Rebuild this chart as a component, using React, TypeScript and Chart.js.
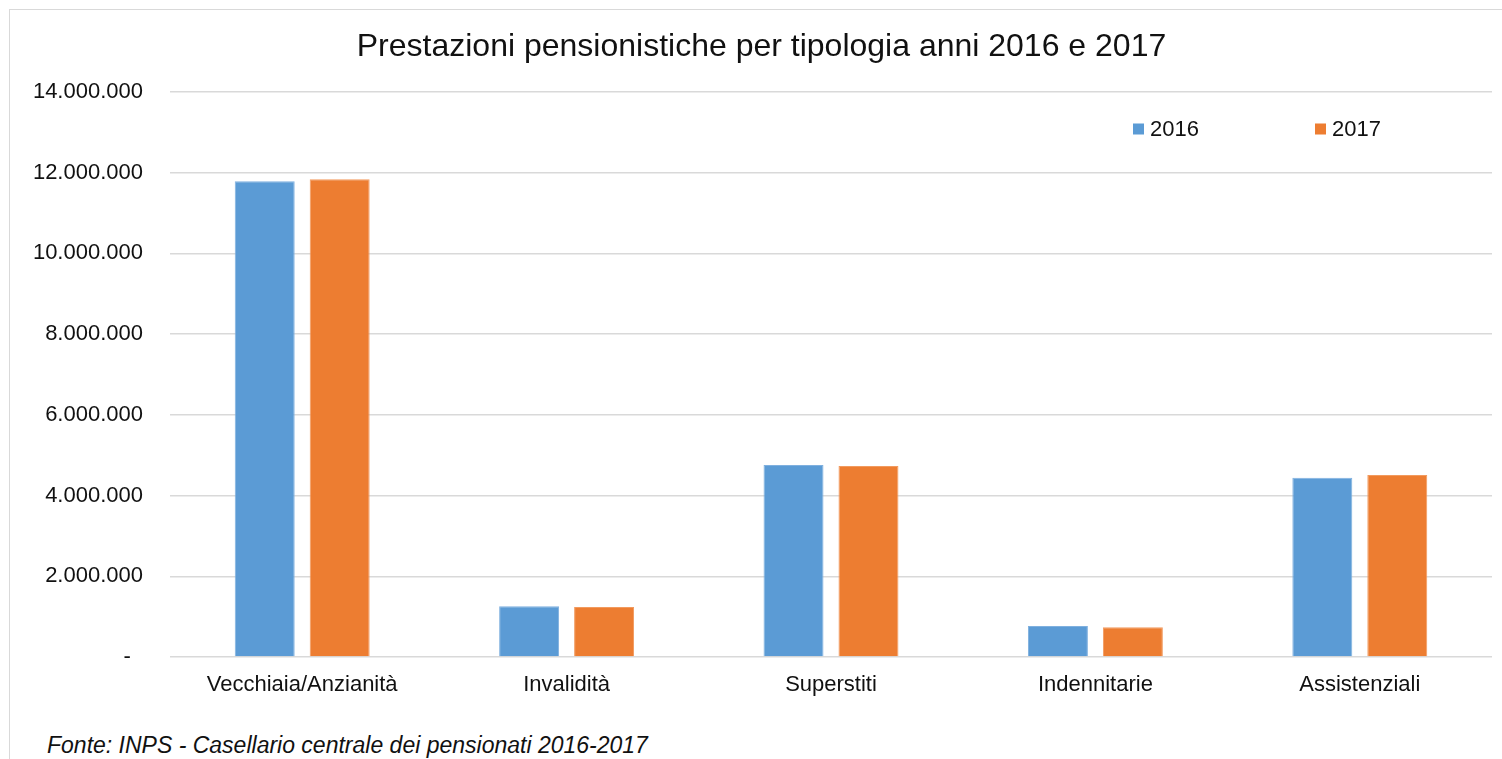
import React, { useEffect, useRef } from "react";
import { Chart, registerables } from "chart.js";

Chart.register(...registerables);

const categories = ["Vecchiaia/Anzianità", "Invalidità", "Superstiti", "Indennitarie", "Assistenziali"];
const values2016 = [11790000, 1260000, 4760000, 770000, 4440000];
const values2017 = [11840000, 1240000, 4730000, 740000, 4510000];
const seriesLabels = ["2016", "2017"];
const seriesColors = ["#5B9BD5", "#ED7D31"];
const seriesBorders = ["#7fb0df", "#f29a5e"];
const titleText = "Prestazioni pensionistiche per tipologia anni 2016 e 2017";
const sourceText = "Fonte: INPS - Casellario centrale dei pensionati 2016-2017";

const FONT = "'Liberation Sans', Arial, sans-serif";
const TEXT = "#111111";

const fmt = (v: number) =>
  v === 0 ? "-  " : String(Math.round(v)).replace(/\B(?=(\d{3})+(?!\d))/g, ".");

const legendPlugin = {
  id: "manualLegend",
  afterDraw(chart: any) {
    const ctx = chart.ctx;
    const items = [
      { x: 1123, y: 119 },
      { x: 1305, y: 119 },
    ];
    ctx.save();
    ctx.font = `22px ${FONT}`;
    ctx.textBaseline = "middle";
    ctx.textAlign = "left";
    chart.data.datasets.forEach((ds: any, i: number) => {
      const p = items[i];
      ctx.fillStyle = ds.backgroundColor;
      ctx.fillRect(p.x, p.y - 5.5, 11, 11);
      ctx.fillStyle = TEXT;
      ctx.fillText(ds.label, p.x + 17, p.y + 1);
    });
    ctx.restore();
  },
};

export default function App() {
  const ref = useRef<HTMLCanvasElement | null>(null);

  useEffect(() => {
    if (!ref.current) return;
    const chart = new Chart(ref.current, {
      type: "bar",
      data: {
        labels: categories,
        datasets: [
          {
            label: seriesLabels[0],
            data: values2016,
            backgroundColor: seriesColors[0],
            borderColor: seriesBorders[0],
            borderWidth: 1,
            categoryPercentage: 0.567,
            barPercentage: 0.8,
          },
          {
            label: seriesLabels[1],
            data: values2017,
            backgroundColor: seriesColors[1],
            borderColor: seriesBorders[1],
            borderWidth: 1,
            categoryPercentage: 0.567,
            barPercentage: 0.8,
          },
        ],
      },
      options: {
        responsive: false,
        animation: false,
        layout: { padding: { left: 21, right: 26, top: 0, bottom: 0 } },
        plugins: {
          legend: { display: false },
          tooltip: { enabled: false },
          title: {
            display: true,
            text: titleText,
            color: TEXT,
            font: { family: FONT, size: 32, weight: "normal" },
            padding: { top: 18, bottom: 25.6 },
          },
        },
        scales: {
          x: {
            grid: { display: false, drawTicks: false },
            border: { display: false },
            ticks: { color: TEXT, font: { family: FONT, size: 22 }, padding: 15, maxRotation: 0 },
            afterFit: (s: any) => {
              s.height = 50;
            },
          },
          y: {
            min: 0,
            max: 14000000,
            grid: { color: "#d9d9d9", lineWidth: 1.5, drawTicks: false },
            border: { display: false },
            ticks: {
              stepSize: 2000000,
              color: TEXT,
              font: { family: FONT, size: 22 },
              padding: 27,
              callback: (v: any) => fmt(Number(v)),
            },
            afterFit: (s: any) => {
              s.width = 139;
            },
          },
        },
      },
      plugins: [legendPlugin],
    });
    return () => chart.destroy();
  }, []);

  return (
    <div
      style={{
        position: "fixed",
        left: 0,
        top: 0,
        width: 1502,
        height: 759,
        overflow: "hidden",
        background: "#fff",
      }}
    >
      <div
        style={{
          position: "absolute",
          left: 9,
          top: 9,
          width: 1600,
          height: 900,
          border: "1px solid #d9d9d9",
        }}
      >
        <canvas ref={ref} width={1508} height={697} style={{ display: "block" }} />
        <div
          style={{
            position: "absolute",
            left: 37,
            top: 724,
            fontFamily: FONT,
            fontStyle: "italic",
            fontSize: 23,
            lineHeight: "23px",
            color: TEXT,
            whiteSpace: "nowrap",
          }}
        >
          {sourceText}
        </div>
      </div>
    </div>
  );
}
